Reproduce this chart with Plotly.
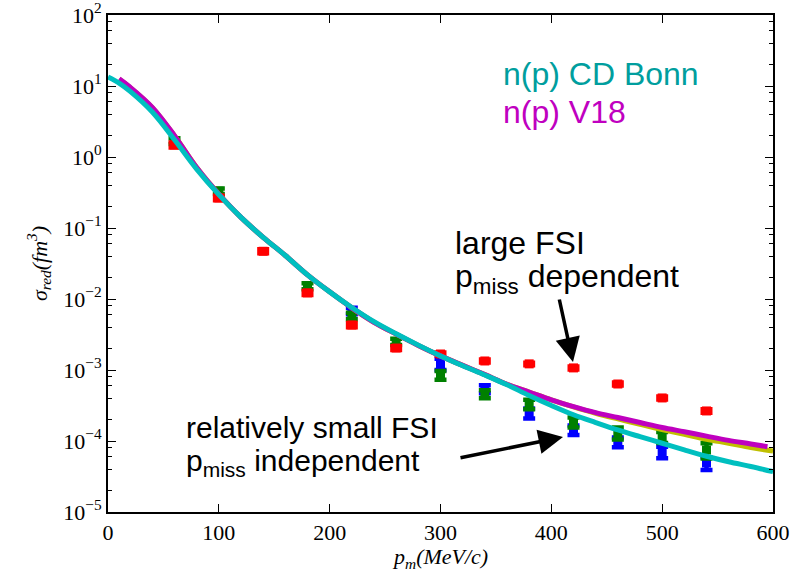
import plotly.graph_objects as go

# ---------------- data ----------------
# theory curves (momentum distributions)
p_cdbonn = [0, 10, 20, 40, 60, 80, 100, 120, 140, 160, 180, 200, 220, 240, 260, 280, 300, 320,
            340, 360, 380, 400, 420, 440, 460, 480, 500, 520, 540, 560, 580, 600]
n_cdbonn = [13.4, 11.0, 8.4, 4.3, 1.75, 0.676, 0.295, 0.141, 0.074, 0.041, 0.0219, 0.0126,
            0.0076, 0.0048, 0.00324, 0.00224, 0.00158, 0.00115, 0.00085, 0.00062, 0.000437,
            0.000316, 0.000234, 0.000182, 0.000143, 0.000115, 0.000093, 0.000075, 0.000061,
            0.000051, 0.0000437, 0.000037]

p_v18 = [10, 20, 40, 60, 80, 100, 120, 140, 160, 180, 200, 220, 240, 260, 280, 300, 320, 340,
         360, 380, 400, 420, 440, 460, 480, 500, 520, 540, 560, 580, 595]
n_v18 = [12.6, 9.6, 5.0, 2.0, 0.71, 0.30, 0.141, 0.074, 0.041, 0.0219, 0.0126, 0.0075,
         0.0047, 0.0032, 0.00222, 0.00158, 0.00116, 0.00086, 0.00063, 0.00049, 0.00038,
         0.000305, 0.000251, 0.000214, 0.000182, 0.000155, 0.000135, 0.000117, 0.000102,
         0.000091, 0.000083]

p_third = [10, 20, 40, 60, 80, 100, 120, 140, 160, 180, 200, 220, 240, 260, 280, 300, 320, 340,
           360, 380, 400, 420, 440, 460, 480, 500, 520, 540, 560, 580, 600]
n_third = [12.5, 9.5, 4.95, 1.99, 0.71, 0.30, 0.141, 0.074, 0.041, 0.0219, 0.0126, 0.0075,
           0.0047, 0.0032, 0.00222, 0.00158, 0.00116, 0.00086, 0.00063, 0.00049, 0.00038,
           0.000303, 0.000246, 0.000205, 0.000172, 0.000145, 0.000124, 0.000106, 0.000093,
           0.000081, 0.000072]

# measured reduced cross sections
p_red = [60, 100, 140, 180, 220, 260, 300, 340, 380, 420, 460, 500, 540]
s_red = [1.48, 0.265, 0.047, 0.0122, 0.0043, 0.00204, 0.00168, 0.00134, 0.00122, 0.00107,
         0.000635, 0.000404, 0.000265]
e_red = [0.12, 0.02, 0.003, 0.0008, 0.0003, 0.00012, 0.00008, 0.00006, 0.00005, 0.00005,
         0.00003, 0.00002, 0.000015]

p_green = [60, 100, 180, 220, 260, 300, 340, 380, 420, 460, 500, 540]
s_green = [1.68, 0.33, 0.0152, 0.0058, 0.0025, 0.00085, 0.00046, 0.00033, 0.000185,
           0.00013, 0.000114, 0.0000746]
e_green = [0.15, 0.03, 0.0015, 0.0006, 0.00025, 0.00012, 0.00006, 0.00005, 0.00003,
           0.000025, 0.00002, 0.000018]

p_blue = [220, 300, 340, 380, 420, 460, 500, 540]
s_blue = [0.0068, 0.00122, 0.00054, 0.000248, 0.000143, 0.0000968, 0.00007, 0.000049]
e_blue = [0.0007, 0.00022, 0.00007, 0.00004, 0.000022, 0.000015, 0.000013, 0.00001]

y_tickvals = [1e-5, 1e-4, 1e-3, 1e-2, 1e-1, 1e0, 1e1, 1e2]
y_ticktext = ["10<sup>−5</sup>", "10<sup>−4</sup>", "10<sup>−3</sup>", "10<sup>−2</sup>",
              "10<sup>−1</sup>", "10<sup>0</sup>", "10<sup>1</sup>", "10<sup>2</sup>"]
x_tickvals = [0, 100, 200, 300, 400, 500, 600]
minor_vals = [k * 10.0 ** e for e in range(-5, 2) for k in (2, 4, 6, 8)]

# ---------------- figure ----------------
fig = go.Figure()

def data_trace(x, y, err, color):
    return go.Scatter(
        x=x, y=y, mode="markers",
        marker=dict(symbol="square", size=9, color=color),
        error_y=dict(type="data", array=err, color=color, thickness=4.5, width=6),
        showlegend=False, hoverinfo="x+y",
    )

fig.add_trace(data_trace(p_blue, s_blue, e_blue, "#0000FF"))
fig.add_trace(data_trace(p_green, s_green, e_green, "#008000"))
fig.add_trace(data_trace(p_red, s_red, e_red, "#FF0000"))

for xs, ys, col in [(p_third, n_third, "#BFBF00"), (p_v18, n_v18, "#BF00BF"),
                    (p_cdbonn, n_cdbonn, "#00BFBF")]:
    fig.add_trace(go.Scatter(x=xs, y=ys, mode="lines",
                             line=dict(color=col, width=5, shape="spline", smoothing=1.0),
                             showlegend=False))

L, R, T, B = 108, 773, 15, 512
W, H = R - L, B - T

def px(xp, yp):
    return (xp - L) / W, (B - yp) / H

anns = []
def text(xp, yp, s, size, color="black", family="Liberation Sans, Arial", xanchor="left"):
    x, y = px(xp, yp)
    anns.append(dict(x=x, y=y, xref="paper", yref="paper", text=s, showarrow=False,
                     xanchor=xanchor, yanchor="middle",
                     font=dict(family=family, size=size, color=color)))

text(501, 74, "n(p) CD Bonn", 32, "#009E9E")
text(501, 112, "n(p) V18", 32, "#C000C0")
text(453, 243, "large FSI", 32)
text(453, 278, "p<sub>miss</sub> dependent", 32)
text(184, 427, "relatively small FSI", 30)
text(184, 462, "p<sub>miss</sub> independent", 30)
# x-axis title
text(440, 558, "<i>p<sub>m</sub>(MeV/c)</i>", 22, "black", "Liberation Serif", "center")

for (x0, y0, x1, y1) in [(559, 298, 573, 362), (459, 458, 563, 437)]:
    tx, ty = px(x1, y1)
    anns.append(dict(x=tx, y=ty, xref="paper", yref="paper", ax=x0 - x1, ay=y0 - y1,
                     axref="pixel", ayref="pixel", text="", showarrow=True,
                     arrowhead=2, arrowsize=1.4, arrowwidth=3.5, arrowcolor="black"))

tickfont = dict(family="Liberation Serif, Times New Roman", size=22, color="black")

fig.update_layout(
    width=807, height=574,
    margin=dict(l=L, r=807 - R, t=T, b=574 - B),
    paper_bgcolor="white", plot_bgcolor="white",
    annotations=anns,
    xaxis=dict(range=[0, 600], tickvals=x_tickvals, ticks="inside", ticklen=8,
               tickwidth=1, tickcolor="black", showline=True, linecolor="black",
               linewidth=2, mirror="ticks", showgrid=False, zeroline=False,
               tickfont=tickfont, automargin=False, ticklabeloverflow="allow"),
    yaxis=dict(type="log", range=[-5, 2], tickvals=y_tickvals, ticktext=y_ticktext,
               ticks="inside", ticklen=8, tickwidth=1, tickcolor="black",
               showline=True, linecolor="black", linewidth=2, mirror="ticks",
               showgrid=False, zeroline=False, tickfont=tickfont, automargin=False,
               ticklabeloverflow="allow",
               minor=dict(tickvals=minor_vals, ticks="inside", ticklen=4,
                          tickcolor="black", tickwidth=1, showgrid=False),
               title=dict(text="<i>σ<sub>red</sub>(fm<sup>3</sup>)</i>", standoff=10,
                          font=dict(family="Liberation Serif", size=22, color="black"))),
)

fig.write_html("out.html", config={"displayModeBar": False},
               post_script="document.body.style.margin='0px';document.body.style.overflow='hidden';")
